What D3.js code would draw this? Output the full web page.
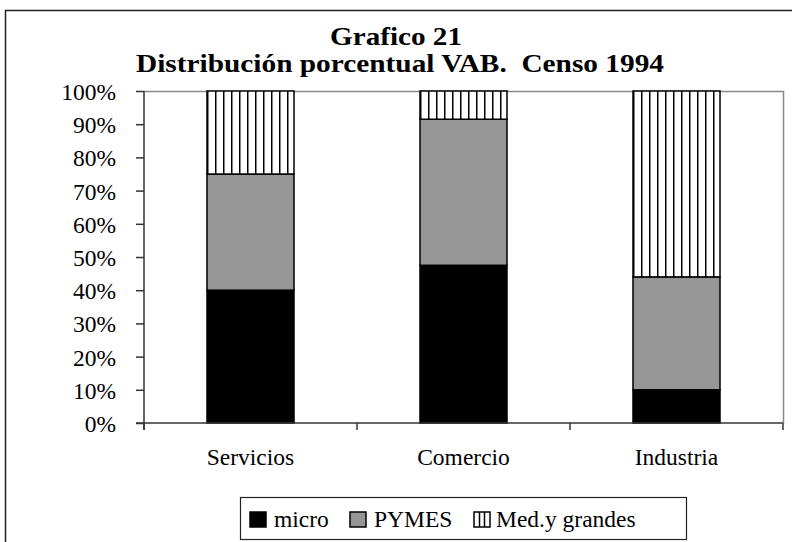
<!DOCTYPE html>
<html><head><meta charset="utf-8">
<script src="https://cdn.jsdelivr.net/npm/d3@7"></script>
<style>body{margin:0;background:#fff}svg{display:block}text{white-space:pre}</style>
</head><body>
<script>
const categories = ["Servicios", "Comercio", "Industria"];
const micro   = [40, 47.5, 10];
const pymes   = [35, 44, 34];
const grandes = [25, 8.5, 56];
const seriesNames = ["micro", "PYMES", "Med.y grandes"];
const yTicks = [0, 10, 20, 30, 40, 50, 60, 70, 80, 90, 100];
const titleLines = ["Grafico 21", "Distribución porcentual VAB.  Censo 1994"];

const W = 792, H = 542;
const svg = d3.select("body").append("svg").attr("width", W).attr("height", H);
const font = "'Liberation Serif', 'Times New Roman', serif";

// outer frame
svg.append("rect").attr("x", 5.5).attr("y", 10.5).attr("width", 900).attr("height", 700)
  .attr("fill", "#fff").attr("stroke", "#222").attr("stroke-width", 1.5);

const plot = {left: 144, right: 783, top: 91, bottom: 423};
const x = d3.scaleBand().domain(categories).range([plot.left, plot.right])
  .paddingInner(0.5915).paddingOuter(0.5915 / 2);
const y = d3.scaleLinear().domain([0, 100]).range([plot.bottom, plot.top]);

// hatch patterns per bar
const defs = svg.append("defs");
categories.forEach((c, i) => {
  const p = defs.append("pattern").attr("id", "hatch" + i)
    .attr("patternUnits", "userSpaceOnUse").attr("width", 8).attr("height", 8)
    .attr("x", x(c)).attr("y", 0);
  p.append("rect").attr("width", 8).attr("height", 8).attr("fill", "#fff");
  p.append("rect").attr("x", 0).attr("y", 0).attr("width", 1.5).attr("height", 8).attr("fill", "#000");
});

// plot border (gray top/right)
svg.append("path")
  .attr("d", `M${plot.left},${plot.top + 0.5}H${plot.right + 0.5}V${plot.bottom}`)
  .attr("fill", "none").attr("stroke", "#888").attr("stroke-width", 1.5);

// stacked bars
const stackData = categories.map((c, i) => ({cat: c, i, micro: micro[i], pymes: pymes[i], grandes: grandes[i]}));
const stack = d3.stack().keys(["micro", "pymes", "grandes"]);
const layers = stack(stackData);
const fills = [() => "#000", () => "#969696", d => `url(#hatch${d.data.i})`];
layers.forEach((layer, k) => {
  svg.append("g").selectAll("rect").data(layer).join("rect")
    .attr("x", d => x(d.data.cat))
    .attr("y", d => y(d[1]))
    .attr("width", x.bandwidth())
    .attr("height", d => y(d[0]) - y(d[1]))
    .attr("fill", fills[k])
    .attr("stroke", "#000").attr("stroke-width", 1.5);
});

// y axis
const yAxis = svg.append("g").attr("transform", `translate(${plot.left},0)`)
  .call(d3.axisLeft(y).tickValues(yTicks).tickFormat(d => d + "%").tickSize(8).tickPadding(20));
yAxis.select(".domain").attr("stroke", "#333").attr("stroke-width", 1.5).attr("d", `M0,${plot.top}V${plot.bottom + 7}`);
yAxis.selectAll(".tick line").attr("stroke", "#333").attr("stroke-width", 1.5);
yAxis.selectAll(".tick text").attr("font-family", font).attr("font-size", 23.5).attr("fill", "#000").attr("dy", "0.36em");

// x axis
const xAxis = svg.append("g").attr("transform", `translate(0,${plot.bottom})`)
  .call(d3.axisBottom(x).tickSize(0).tickPadding(0));
xAxis.select(".domain").attr("stroke", "#333").attr("stroke-width", 1.5).attr("d", `M${plot.left - 8},0H${plot.right}`);
xAxis.selectAll(".tick text").attr("font-family", font).attr("font-size", 23.5).attr("fill", "#000")
  .attr("y", 42).attr("dy", 0);
const boundaries = [plot.left].concat(categories.map(c => x(c) + x.bandwidth() / 2 + x.step() / 2));
xAxis.selectAll("line.sep").data(boundaries).join("line").attr("class", "sep")
  .attr("x1", d => d).attr("x2", d => d).attr("y1", 0).attr("y2", 7)
  .attr("stroke", "#333").attr("stroke-width", 1.5);

// title
svg.append("text").attr("x", 396).attr("y", 45).attr("text-anchor", "middle")
  .attr("font-family", font).attr("font-weight", "bold").attr("font-size", 26)
  .attr("textLength", 132).attr("lengthAdjust", "spacingAndGlyphs").text(titleLines[0]);
svg.append("text").attr("x", 400).attr("y", 72).attr("text-anchor", "middle")
  .attr("font-family", font).attr("font-weight", "bold").attr("font-size", 26)
  .attr("textLength", 528).attr("lengthAdjust", "spacingAndGlyphs").text(titleLines[1]);

// legend
const lg = svg.append("g");
lg.append("rect").attr("x", 240.5).attr("y", 497.5).attr("width", 446).attr("height", 42)
  .attr("fill", "#fff").attr("stroke", "#222").attr("stroke-width", 1.2);
const legendX = [250, 350, 474];
const legendFill = ["#000", "#969696", "#fff"];
seriesNames.forEach((n, k) => {
  const g = lg.append("g").attr("transform", `translate(${legendX[k]},512)`);
  g.append("rect").attr("width", 16).attr("height", 15).attr("fill", legendFill[k])
    .attr("stroke", "#000").attr("stroke-width", 1.5);
  if (k === 2) {
    [5.5, 10.5].forEach(v => g.append("line").attr("x1", v).attr("x2", v).attr("y1", 0).attr("y2", 15)
      .attr("stroke", "#000").attr("stroke-width", 1.5));
  }
  g.append("text").attr("x", k === 2 ? 22 : 24).attr("y", 15).attr("font-family", font)
    .attr("font-size", 23.5).text(n);
});
</script>
</body></html>
